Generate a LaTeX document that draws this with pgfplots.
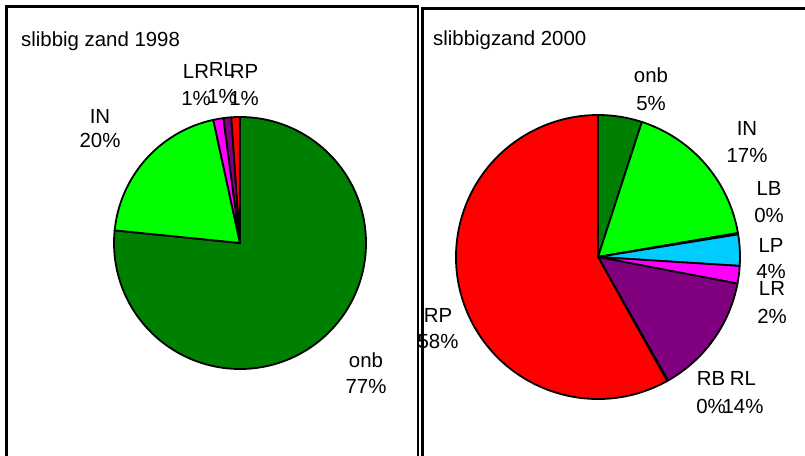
\documentclass[border=0pt]{standalone}
\usepackage{fontspec}
\setmainfont{Liberation Sans}
\usepackage{pgfplots}
\usepackage{pgfplotstable}
\pgfplotsset{compat=1.18}
\definecolor{onbc}{HTML}{008000}
\definecolor{inc}{HTML}{00FF00}
\definecolor{lbc}{HTML}{FFFF00}
\definecolor{lpc}{HTML}{00CCFF}
\definecolor{lrc}{HTML}{FF00FF}
\definecolor{rlc}{HTML}{800080}
\definecolor{rbc}{HTML}{993300}
\definecolor{rpc}{HTML}{FF0000}

\pgfplotstableread{
label value col
onb 76.6 onbc
IN 20.0 inc
LR 1.3 lrc
RL 1.0 rlc
RP 1.1 rpc
}\pieA
\pgfplotstableread{
label value col
onb 5.0 onbc
IN 17.3 inc
LB 0.15 lbc
LP 3.55 lpc
LR 2.0 lrc
RL 13.8 rlc
RB 0.1 rbc
RP 58.1 rpc
}\pieB

% #1 table, #2 cx, #3 cy, #4 radius (axis units = bp)
\newcommand\drawpie[4]{%
  \pgfplotstablegetrowsof{#1}%
  \pgfmathtruncatemacro\nrows{\pgfplotsretval-1}%
  \def\cum{0}%
  \pgfplotsforeachungrouped \i in {0,...,\nrows}{%
    \pgfplotstablegetelem{\i}{value}\of{#1}\let\v\pgfplotsretval
    \pgfplotstablegetelem{\i}{col}\of{#1}\let\c\pgfplotsretval
    \pgfmathsetmacro\sa{90-3.6*\cum}%
    \pgfmathsetmacro\cum{\cum+\v}%
    \pgfmathsetmacro\ea{90-3.6*\cum}%
    \filldraw[fill=\c,draw=black,line width=1.8bp,line join=round]
      (axis cs:#2,#3) -- ++(\sa:#4bp) arc[start angle=\sa,end angle=\ea,radius=#4bp] -- cycle;
  }%
}
\newcommand\lab[5]{%
  \node[anchor=base,inner sep=0pt] at (axis cs:#1,#2) {#3};
  \node[anchor=base,inner sep=0pt] at (axis cs:#1,#4) {#5};
}

\begin{document}
\begin{tikzpicture}[font=\fontsize{20.4bp}{24bp}\selectfont]
\path[use as bounding box] (0,0) rectangle (805bp,456bp);
\clip (0,0) rectangle (805bp,456bp);
\begin{axis}[x=1bp,y=1bp,xmin=0,xmax=805,ymin=0,ymax=456,
  hide axis,clip=false,at={(0,0)},anchor=origin]
\pgfplotsextra{\drawpie{\pieA}{240}{213}{126}}
\pgfplotsextra{\drawpie{\pieB}{598}{199}{142}}

% titles
\node[anchor=base west,inner sep=0pt] at (axis cs:21,409.5) {slibbig zand 1998};
\node[anchor=base west,inner sep=0pt] at (axis cs:433,410) {slibbigzand 2000};

% left labels
\lab{196}{378}{LR}{351}{1\%}
\lab{222}{380}{RL}{353}{1\%}
\lab{244}{378}{RP}{351}{1\%}
\lab{100}{333}{IN}{309}{20\%}
\lab{366}{89}{onb}{63}{77\%}

% right labels
\lab{651}{374}{onb}{346}{5\%}
\lab{747}{321}{IN}{294}{17\%}
\lab{769}{261}{LB}{234}{0\%}
\lab{771}{204}{LP}{178}{4\%}
\lab{772}{161}{LR}{133}{2\%}
\lab{711}{71}{RB}{43}{0\%}
\lab{743}{71}{RL}{43}{14\%}
\lab{438}{134}{RP}{108}{58\%}

% boxes
\draw[line width=2.5bp,line join=miter] (axis cs:6.5,-10) -- (axis cs:6.5,449.5) -- (axis cs:418,449.5) -- (axis cs:418,-10);
\draw[line width=3bp,line join=miter] (axis cs:422,-10) -- (axis cs:422,447.7) -- (axis cs:815,447.7);
\end{axis}
\end{tikzpicture}
\end{document}
